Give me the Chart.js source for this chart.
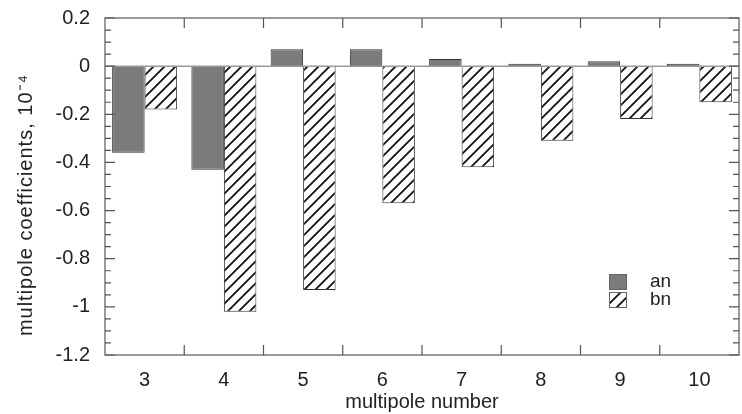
<!DOCTYPE html>
<html>
<head>
<meta charset="utf-8">
<script src="https://cdn.jsdelivr.net/npm/chart.js@4.4.0/dist/chart.umd.min.js"></script>
<style>
  html, body { margin: 0; padding: 0; background: #fff; }
  #wrap { width: 742px; height: 414px; position: relative; }
</style>
</head>
<body>
<div id="wrap"><canvas id="c" width="742" height="414"></canvas></div>
<script>
// ---- data ----
const categories = ['3', '4', '5', '6', '7', '8', '9', '10'];
const anValues = [-0.36, -0.43, 0.07, 0.07, 0.03, 0.01, 0.02, 0.01];
const bnValues = [-0.18, -1.02, -0.93, -0.57, -0.42, -0.31, -0.22, -0.15];
const seriesLabels = ['an', 'bn'];
const yTickValues = [0.2, 0, -0.2, -0.4, -0.6, -0.8, -1, -1.2];
const yTitle = 'multipole coefficients, 10\u207B\u2074';
const xTitle = 'multipole number';

const FONT = "'Liberation Sans', Arial, Helvetica, sans-serif";

function makeHatch() {
  const s = 11;
  const c = document.createElement('canvas');
  c.width = s; c.height = s;
  const g = c.getContext('2d');
  g.fillStyle = '#ffffff';
  g.fillRect(0, 0, s, s);
  g.strokeStyle = '#111111';
  g.lineWidth = 1.8;
  g.beginPath();
  g.moveTo(0, s); g.lineTo(s, 0);
  g.moveTo(-2, 2); g.lineTo(2, -2);
  g.moveTo(s - 2, s + 2); g.lineTo(s + 2, s - 2);
  g.stroke();
  return g.createPattern(c, 'repeat');
}
const hatch = makeHatch();

const frame = {
  id: 'frame',
  afterDatasetsDraw(chart) {
    const { ctx, chartArea: a, scales: { y } } = chart;
    ctx.save();
    ctx.strokeStyle = '#999999';
    ctx.lineWidth = 1.5;
    const y0 = y.getPixelForValue(0);
    ctx.beginPath(); ctx.moveTo(a.left, y0); ctx.lineTo(a.right, y0); ctx.stroke();
    ctx.restore();
  },
  afterDraw(chart) {
    const { ctx, chartArea: a, scales: { x, y } } = chart;
    ctx.save();
    ctx.strokeStyle = '#7a7a7a';
    ctx.lineWidth = 1.5;
    ctx.strokeRect(a.left, a.top, a.right - a.left, a.bottom - a.top);
    ctx.lineWidth = 1.2;
    ctx.strokeStyle = '#555555';
    ctx.beginPath();
    const step = 0.05;
    const n = Math.round((y.max - y.min) / step);
    for (let i = 0; i <= n; i++) {
      const v = y.min + i * step;
      const py = y.getPixelForValue(v);
      const major = Math.abs(Math.round(v / 0.2) * 0.2 - v) < 1e-6;
      const len = major ? 10 : 6;
      ctx.moveTo(a.left, py); ctx.lineTo(a.left + len, py);
      ctx.moveTo(a.right, py); ctx.lineTo(a.right - len, py);
    }
    for (let i = 0; i < categories.length - 1; i++) {
      const px = (x.getPixelForValue(i) + x.getPixelForValue(i + 1)) / 2;
      ctx.moveTo(px, a.top); ctx.lineTo(px, a.top + 10);
      ctx.moveTo(px, a.bottom); ctx.lineTo(px, a.bottom - 10);
    }
    ctx.stroke();

    // y title
    ctx.fillStyle = '#222222';
    ctx.font = '20px ' + FONT;
    ctx.letterSpacing = '1px';
    ctx.textAlign = 'center';
    ctx.textBaseline = 'middle';
    ctx.translate(26, 205);
    ctx.rotate(-Math.PI / 2);
    ctx.fillText(yTitle, 0, 0);
    ctx.restore();

    // legend
    ctx.save();
    const lx = 609, ly = 274;
    chart.data.datasets.forEach((ds, i) => {
      const by = ly + i * 18;
      ctx.fillStyle = ds.backgroundColor;
      ctx.fillRect(lx, by, 18, 16);
      ctx.strokeStyle = '#666666';
      ctx.lineWidth = 1;
      ctx.strokeRect(lx + 0.5, by + 0.5, 17, 15);
      ctx.fillStyle = '#222222';
      ctx.font = '19px ' + FONT;
      ctx.textAlign = 'left';
      ctx.textBaseline = 'middle';
      ctx.fillText(ds.label, lx + 41, by + 8);
    });
    ctx.restore();
  }
};

new Chart(document.getElementById('c'), {
  type: 'bar',
  data: {
    labels: categories,
    datasets: [
      { label: seriesLabels[0], data: anValues, backgroundColor: '#7b7b7b', borderColor: '#333333', borderWidth: 1 },
      { label: seriesLabels[1], data: bnValues, backgroundColor: hatch, borderColor: '#333333', borderWidth: 1 }
    ]
  },
  options: {
    responsive: false,
    animation: false,
    layout: { padding: { top: 18, right: 3, left: 0, bottom: 0 } },
    datasets: { bar: { categoryPercentage: 0.82, barPercentage: 1.0 } },
    plugins: { legend: { display: false }, tooltip: { enabled: false } },
    scales: {
      x: {
        grid: { display: false, drawTicks: false },
        border: { display: false },
        ticks: { color: '#222', font: { family: FONT, size: 20 }, padding: 13 },
        title: { display: true, text: xTitle, color: '#222', font: { family: FONT, size: 20 }, padding: { top: 0, bottom: 0 } },
        afterFit(s) { s.height = 59; s.paddingLeft = 0; s.paddingRight = 0; }
      },
      y: {
        min: -1.2, max: 0.2,
        grid: { display: false, drawTicks: false },
        border: { display: false },
        afterBuildTicks(s) { s.ticks = yTickValues.map(v => ({ value: v })); },
        ticks: {
          color: '#222', font: { family: FONT, size: 20 }, padding: 15,
          callback: v => String(Math.round(v * 10) / 10)
        },
        afterFit(s) { s.width = 105; s.paddingTop = 0; s.paddingBottom = 0; }
      }
    }
  },
  plugins: [frame]
});
</script>
</body>
</html>
